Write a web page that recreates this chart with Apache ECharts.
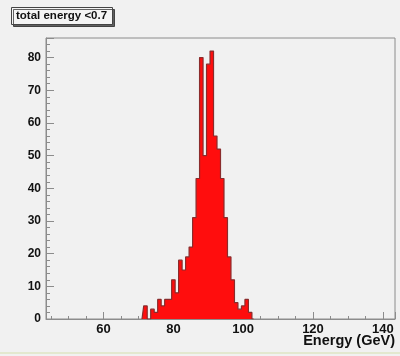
<!DOCTYPE html>
<html>
<head>
<meta charset="utf-8">
<script src="https://cdn.jsdelivr.net/npm/echarts@6/dist/echarts.min.js"></script>
<style>
  html, body { margin: 0; padding: 0; background: #f1f1f1; }
  #chart { width: 400px; height: 356px; }
</style>
</head>
<body>
<div id="chart"></div>
<script>
// 1 GeV bins, centres in GeV (empty bins at both ends close the outline)
const binCenters = [71, 72, 73, 74, 75, 76, 77, 78, 79, 80, 81, 82, 83, 84, 85, 86, 87,
  88, 89, 90, 91, 92, 93, 94, 95, 96, 97, 98, 99, 100, 101, 102, 103]
const counts = [0, 4, 0, 3, 2, 6, 4, 6, 6, 12, 8, 18, 15, 19, 22, 31, 43,
  80, 50, 78, 82, 56, 52, 43, 31, 19, 12, 5, 3, 4, 6, 2, 0]
const xRange = [43.5, 143.5]
const yRange = [0, 86]

const chart = echarts.init(document.getElementById('chart'))
const font = 'Liberation Sans, Arial, sans-serif'

chart.setOption({
  backgroundColor: '#f1f1f1',
  animation: false,
  title: [
    {
      text: 'total energy <0.7',
      left: 11,
      top: 7,
      padding: [3, 6, 3, 5],
      backgroundColor: '#f4f4f4',
      borderColor: '#444',
      borderWidth: 1,
      shadowColor: 'rgba(0,0,0,0.6)',
      shadowOffsetX: 2,
      shadowOffsetY: 2,
      textStyle: { fontFamily: font, fontSize: 11.5, fontWeight: 'bold', color: '#111' }
    },
    {
      text: 'Energy (GeV)',
      right: 5,
      top: 333,
      padding: 0,
      textStyle: { fontFamily: font, fontSize: 14.5, fontWeight: 'bold', color: '#111' }
    }
  ],
  grid: {
    left: 46,
    right: 5,
    top: 38,
    bottom: 37,
    show: true,
    borderColor: '#8c8c8c',
    borderWidth: 1,
    backgroundColor: '#f1f1f1'
  },
  xAxis: {
    type: 'value',
    min: xRange[0],
    max: xRange[1],
    splitNumber: 5,
    axisLine: { lineStyle: { color: '#8c8c8c' } },
    axisTick: { inside: true, length: 7, lineStyle: { color: '#8c8c8c' } },
    minorTick: { show: true, splitNumber: 4, length: 3, lineStyle: { color: '#8c8c8c' } },
    splitLine: { show: false },
    axisLabel: {
      margin: 4,
      fontFamily: font,
      fontSize: 13,
      fontWeight: 'bold',
      color: '#111',
      formatter: v => (v % 20 === 0 ? v : '')
    }
  },
  yAxis: {
    type: 'value',
    min: yRange[0],
    max: yRange[1],
    interval: 10,
    axisLine: { show: true, lineStyle: { color: '#8c8c8c' } },
    axisTick: { show: true, inside: true, length: 8, lineStyle: { color: '#8c8c8c' } },
    minorTick: { show: true, splitNumber: 5, length: 4, lineStyle: { color: '#8c8c8c' } },
    splitLine: { show: false },
    axisLabel: {
      margin: 5,
      fontFamily: font,
      fontSize: 12,
      fontWeight: 'bold',
      color: '#111',
      formatter: v => (v % 10 === 0 ? v : '')
    }
  },
  graphic: [
    { type: 'rect', shape: { x: 0, y: 352, width: 400, height: 2 }, style: { fill: '#e3e8cf' } }
  ],
  series: [
    {
      type: 'line',
      step: 'middle',
      symbol: 'none',
      data: binCenters.map((c, i) => [c, counts[i]]),
      lineStyle: { color: '#8a2c2c', width: 1.2 },
      areaStyle: { color: '#ff0d0d', opacity: 1 }
    }
  ]
})
</script>
</body>
</html>
